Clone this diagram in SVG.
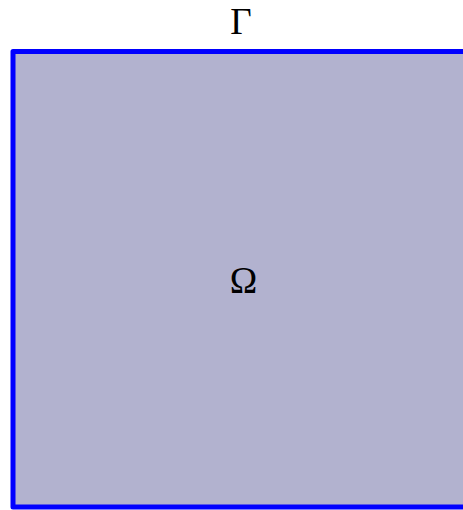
<svg xmlns="http://www.w3.org/2000/svg" width="463" height="510" viewBox="0 0 463 510">
<style>
.lbl{font-family:"Liberation Serif","DejaVu Serif",serif;font-size:37px;fill:#000;text-anchor:middle}
</style>
<rect width="463" height="510" fill="#fff"/>
<g id="domain">
<rect x="13" y="51.5" width="456" height="455.5" fill="#b2b2cf" stroke="#0000ff" stroke-width="5" stroke-linejoin="round"/>
<text class="lbl" x="243.5" y="293">Ω</text>
</g>
<g id="boundary-label">
<text class="lbl" x="241" y="33.5">Γ</text>
</g>
</svg>
